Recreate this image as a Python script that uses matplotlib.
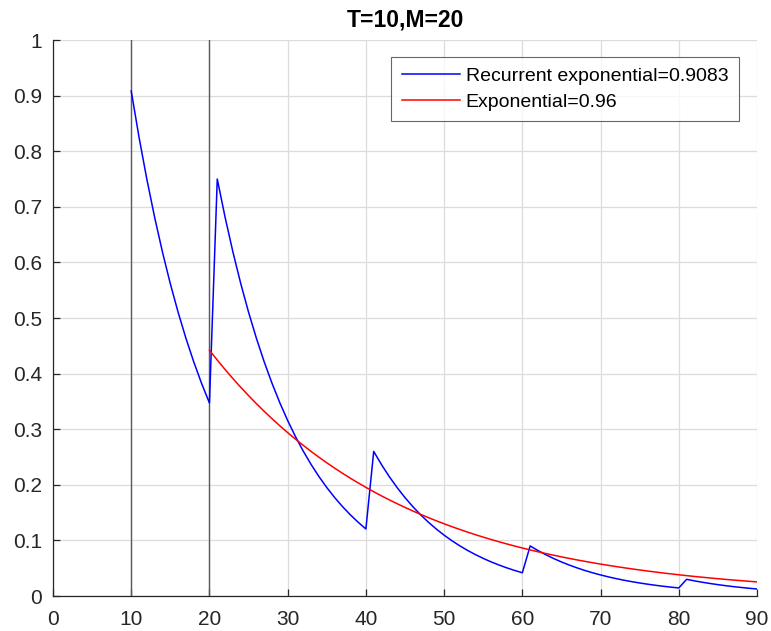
import numpy as np
import matplotlib
matplotlib.use("Agg")
import matplotlib.pyplot as plt

plt.rcParams['font.family'] = ['Liberation Sans', 'DejaVu Sans']

# Model parameters shown in the legend
recurrent_rate = 0.9083
exponential_rate = 0.96

# Recurrent exponential: segments restart at each recurrence
seg_start = [10, 21, 41, 61, 81]
seg_end = [20, 40, 60, 80, 90]
seg_peak = [0.9083, 0.75, 0.26, 0.09, 0.03]

# Plain exponential starts at the second marker
exp_start = 20
exp_end = 90

# Vertical markers (T and M)
markers = [10, 20]

x_ticks = list(range(0, 91, 10))
y_ticks = [0, 0.1, 0.2, 0.3, 0.4, 0.5, 0.6, 0.7, 0.8, 0.9, 1]
y_tick_labels = ['0', '0.1', '0.2', '0.3', '0.4', '0.5', '0.6', '0.7', '0.8', '0.9', '1']

# Build the recurrent curve on integer steps
rx, ry = [], []
for s, e, p in zip(seg_start, seg_end, seg_peak):
    xs = np.arange(s, e + 1)
    rx.extend(xs)
    ry.extend(p * recurrent_rate ** (xs - s))

ex = np.arange(exp_start, exp_end + 1)
ey = exponential_rate ** ex

txt = '#262626'
fig = plt.figure(figsize=(7.71, 6.31), dpi=100)
ax = fig.add_axes([53/771, 35/631, (757-53)/771, (596-40)/631])

for m in markers:
    ax.axvline(m, color='#5a5a5a', lw=1.0, zorder=1)

ax.plot(rx, ry, color='#0000ff', lw=1.1, label='Recurrent exponential=0.9083', zorder=3)
ax.plot(ex, ey, color='#ff0000', lw=1.1, label='Exponential=0.96', zorder=3)

ax.set_xlim(0, 90)
ax.set_ylim(0, 1)
ax.set_xticks(x_ticks)
ax.set_yticks(y_ticks)
ax.set_yticklabels(y_tick_labels)
ax.grid(True, color='#dcdcdc', lw=0.9, zorder=0)
ax.set_axisbelow(True)
for side in ['top', 'right']:
    ax.spines[side].set_visible(False)
for side in ['left', 'bottom']:
    ax.spines[side].set_color(txt)
    ax.spines[side].set_linewidth(0.9)
ax.tick_params(direction='in', length=5, width=0.9, colors=txt, labelsize=15)
ax.tick_params(axis='x', pad=10)
ax.tick_params(axis='y', pad=8)

ax.set_title('T=10,M=20', fontsize=16.5, fontweight='bold', color='black', pad=10)

leg = ax.legend(loc='upper right', fontsize=14, frameon=True, fancybox=False,
                edgecolor='#404040', handlelength=3.0, handletextpad=0.3,
                borderpad=0.55, labelspacing=0.4, borderaxespad=0.0)
leg.get_frame().set_linewidth(0.8)
leg.set_bbox_to_anchor((739/771, 1 - 57/631), transform=fig.transFigure)
for t in leg.get_texts():
    t.set_color('black')

fig.savefig('out.png', dpi=100, facecolor='white')
